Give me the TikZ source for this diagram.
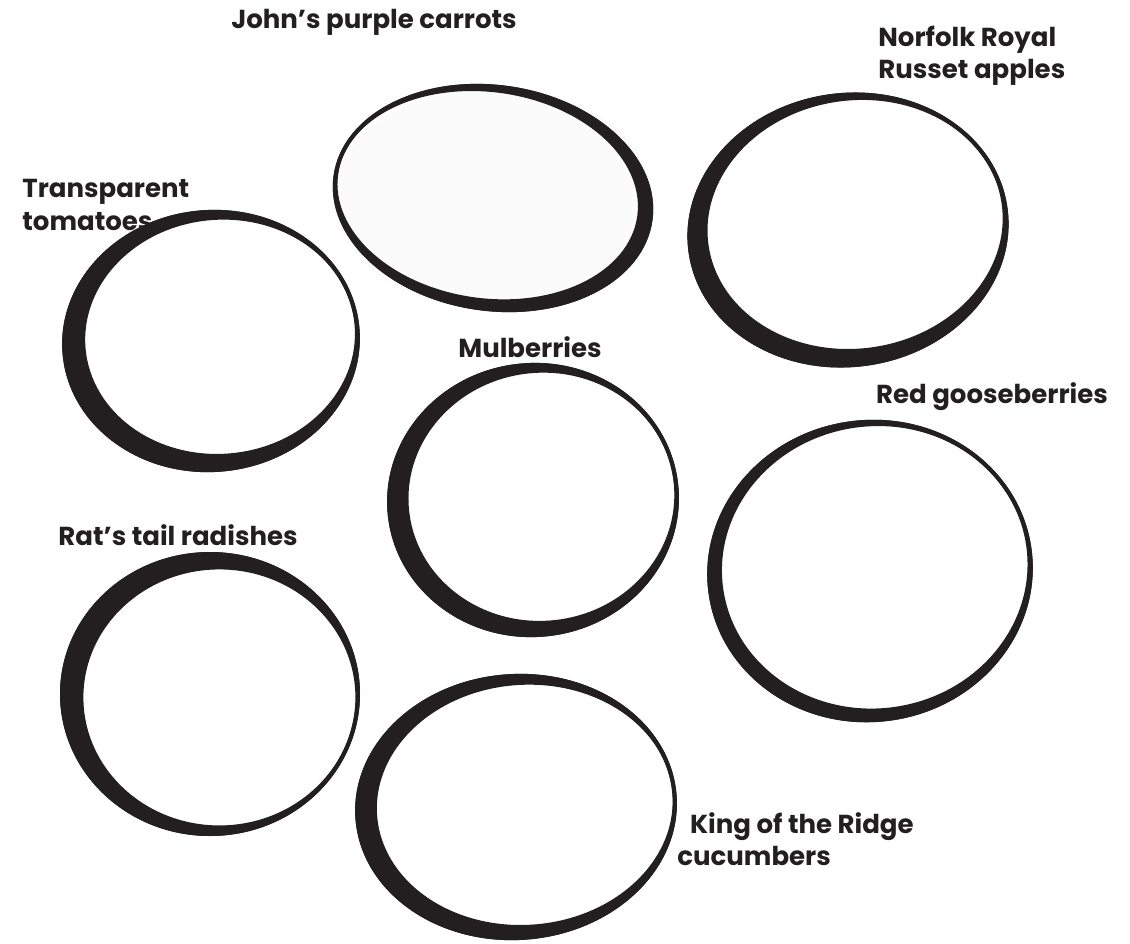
\documentclass[tikz,border=0pt]{standalone}
\usepackage{fontspec}
\setmainfont{Poppins}
\tikzset{every path/.style={semithick}}
\definecolor{ink}{HTML}{231F20}
\tikzset{lbl/.style={inner sep=0pt, text=ink, font=\fontsize{18.5}{23}\selectfont\bfseries, align=left}}

\begin{document}
\begin{tikzpicture}[x=0.025cm, y=-0.025cm]
    \useasboundingbox (0,0) rectangle (1130,943);

    % the seven rings: centre x/y, radii, tilt, thin side, half thickness
    \fill[gray!3] (493,198) ellipse (159 and 111);
    \foreach \cx/\cy/\rx/\ry/\rot/\dir/\w in {
        493/198/161/113/-8/200/6,
        848/230/161/137/8/-30/9,
        211/341/149/131/5/-20/10,
        533/500/146/137/6/-15/9,
        870/571/163/151/8/-30/6,
        210/694/150/142/0/20/10,
        516/807/161/133/4/-10/9} {
      \begin{scope}[shift={(\cx,\cy)}, rotate=\rot]
        \fill[ink, even odd rule] (0,0) ellipse ({\rx} and {\ry})
          ({\w*cos(\dir)},{\w*sin(\dir)}) ellipse ({\rx-4-\w} and {\ry-4-\w});
        \draw[ink, line width=2.8pt] (0,0) ellipse ({\rx-2} and {\ry-2});
      \end{scope}
    }

    \node[lbl] (carrots) at (374,22) {John's purple carrots};
    \node[lbl, anchor=west] (apples) at (878,56) {Norfolk Royal\\Russet apples};
    \node[lbl, anchor=west] (tomatoes) at (22,205) {Transparent\\tomatoes};
    \node[lbl] (mulberries) at (530,347) {Mulberries};
    \node[lbl] (gooseberries) at (992,397) {Red gooseberries};
    \node[lbl] (radishes) at (178,535) {Rat's tail radishes};
    \node[lbl, anchor=west] (cucumbers) at (677,839) {\hspace*{9pt}King of the Ridge\\cucumbers};
  \end{tikzpicture}
\end{document}
